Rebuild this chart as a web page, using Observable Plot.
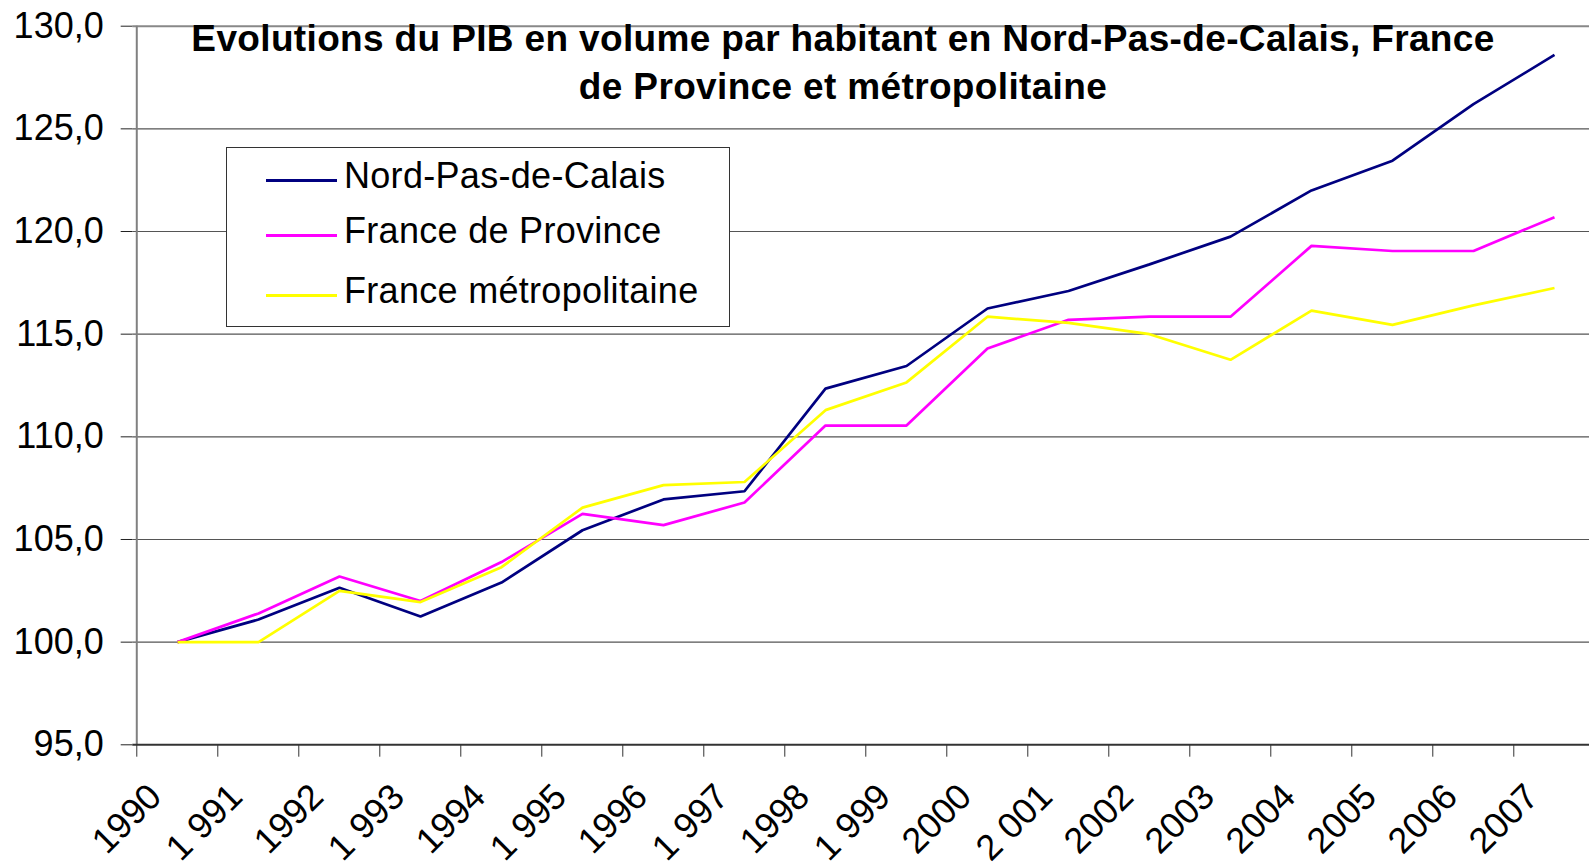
<!DOCTYPE html>
<html lang="fr">
<head>
<meta charset="utf-8">
<script src="https://cdn.jsdelivr.net/npm/d3@7"></script>
<script src="https://cdn.jsdelivr.net/npm/@observablehq/plot@0.6"></script>
<style>
  html, body { margin: 0; padding: 0; background: #fff; overflow: hidden; }
  #wrap { position: relative; width: 1589px; height: 867px; overflow: hidden; font-family: "Liberation Sans", Arial, sans-serif; }
  #title { position: absolute; left: 843px; top: 14.5px; transform: translateX(-50%); white-space: nowrap;
           font: bold 37px "Liberation Sans", Arial, sans-serif; line-height: 48px; text-align: center; letter-spacing: 0.35px; color: #000; }
  #legend { position: absolute; left: 226px; top: 146.5px; width: 502px; height: 178px; background: #fff; border: 1.2px solid #333; }
  .lg-line { position: absolute; left: 39px; width: 71px; height: 3px; }
  .lg-text { position: absolute; left: 117px; font-size: 36px; line-height: 36px; white-space: nowrap; color: #000; letter-spacing: 0.3px; }
</style>
</head>
<body>
<div id="wrap">
  <div id="chart"></div>
  <div id="title">Evolutions du PIB en volume par habitant en Nord-Pas-de-Calais, France<br>de Province et métropolitaine</div>
  <div id="legend"></div>
</div>
<script>
// ---- data ----
const years = [1990, 1991, 1992, 1993, 1994, 1995, 1996, 1997, 1998, 1999, 2000, 2001, 2002, 2003, 2004, 2005, 2006, 2007];
const yearLabels = ["1990", "1 991", "1992", "1 993", "1994", "1 995", "1996", "1 997", "1998", "1 999", "2000", "2 001", "2002", "2003", "2004", "2005", "2006", "2007"];
const seriesNames = ["Nord-Pas-de-Calais", "France de Province", "France métropolitaine"];
const seriesColors = ["#000080", "#FF00FF", "#FFFF00"];
const nordPasDeCalais = [100.0, 101.1, 102.65, 101.25, 102.9, 105.45, 106.95, 107.35, 112.35, 113.45, 116.25, 117.1, 118.4, 119.75, 122.0, 123.45, 126.2, 128.6];
const franceProvince = [100.0, 101.4, 103.2, 102.0, 103.9, 106.25, 105.7, 106.8, 110.55, 110.55, 114.3, 115.7, 115.85, 115.85, 119.3, 119.05, 119.05, 120.7];
const franceMetro = [100.0, 100.0, 102.5, 101.95, 103.65, 106.55, 107.65, 107.8, 111.3, 112.65, 115.85, 115.55, 115.0, 113.75, 116.15, 115.45, 116.4, 117.25];
const yTicks = [95, 100, 105, 110, 115, 120, 125, 130];

const seriesValues = [nordPasDeCalais, franceProvince, franceMetro];
const data = seriesNames.flatMap((name, s) =>
  years.map((year, i) => ({year, value: seriesValues[s][i], series: name}))
);

// ---- layout ----
const W = 1589, H = 867;
const xLeft = 132.3, xRight = 1598.1;       // band edges of the category axis
const step = (xRight - xLeft) / years.length;
const yBottom = 744.3, yTop = 25.7;
const fmt = d => d.toFixed(1).replace(".", ",");

const chart = Plot.plot({
  width: W,
  height: H,
  marginLeft: xLeft,
  marginRight: 0,
  marginTop: yTop,
  marginBottom: H - yBottom,
  style: {fontFamily: "'Liberation Sans', Arial, sans-serif", fontSize: "36px", background: "#fff", color: "#000"},
  x: {type: "point", domain: years, padding: 0, range: [xLeft + step / 2, xRight - step / 2]},
  y: {domain: [95, 130], range: [yBottom, yTop]},
  color: {domain: seriesNames, range: seriesColors},
  marks: [
    Plot.ruleY(yTicks.filter(v => v > 95 && v < 130), {stroke: "#555", strokeWidth: 1.2}),
    Plot.ruleY([130], {stroke: "#888", strokeWidth: 2}),
    Plot.axisY({ticks: yTicks, tickSize: 11.6, tickPadding: 17.5, tickFormat: fmt, fontSize: 36, stroke: "#222", label: null}),
    Plot.axisX({anchor: "bottom", ticks: years, tickSize: 12.4, tickFormat: () => "", dx: -step / 2, stroke: "#333", label: null}),
    Plot.text(years, {x: d => d, text: (d, i) => yearLabels[i], frameAnchor: "bottom", dx: -14, dy: 54,
      rotate: -45, textAnchor: "end", lineAnchor: "bottom", fontSize: 36, fill: "#000"}),
    Plot.line(data, {x: "year", y: "value", stroke: "series", strokeWidth: 2.7, strokeLinejoin: "miter", strokeLinecap: "butt"}),
    Plot.ruleX([years[0]], {dx: -step / 2, stroke: "#808080", strokeWidth: 2}),
    Plot.ruleY([95], {stroke: "#333", strokeWidth: 2})
  ]
});
document.getElementById("chart").appendChild(chart);

// ---- legend ----
const legend = document.getElementById("legend");
const rowBaselines = [40, 95, 155];   // relative to legend box top
seriesNames.forEach((name, i) => {
  const ln = document.createElement("div");
  ln.className = "lg-line";
  ln.style.top = (rowBaselines[i] - 9) + "px";
  ln.style.background = seriesColors[i];
  legend.appendChild(ln);
  const tx = document.createElement("div");
  tx.className = "lg-text";
  tx.style.top = (rowBaselines[i] - 30) + "px";
  tx.textContent = name;
  legend.appendChild(tx);
});
</script>
</body>
</html>
